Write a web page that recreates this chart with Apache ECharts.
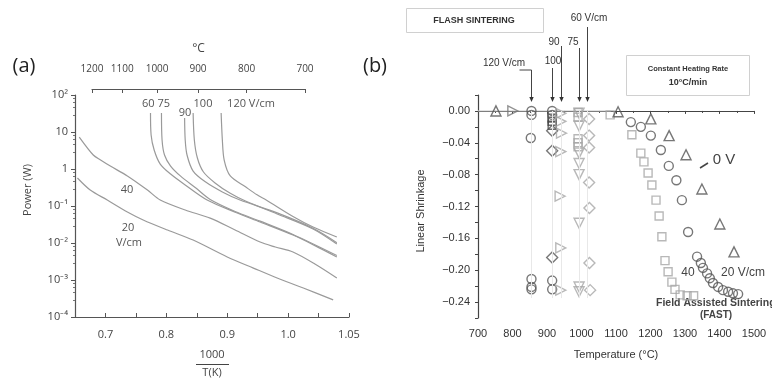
<!DOCTYPE html>
<html><head><meta charset="utf-8">
<script src="https://cdn.jsdelivr.net/npm/echarts@6/dist/echarts.min.js"></script>
<style>html,body{margin:0;padding:0;background:#fff}#c{width:772px;height:379px}</style>
</head><body><div id="c"></div>
<script>
// ---------- Panel (a): power vs 1000/T ----------
const xTickValsA = [0.7, 0.8, 0.9, 1.0, 1.1];
const xTickTextA = ['0.7', '0.8', '0.9', '1.0', '1.05'];
const yTickTextA = ['10⁻⁴', '10⁻³', '10⁻²', '10⁻¹', '1', '10', '10²'];
const celsiusTicks = [1200, 1100, 1000, 900, 800, 700];

const power20 = [[0.654,0.57],[0.675,0.27],[0.703,0.145],[0.736,0.069],[0.762,0.042],[0.802,0.0224],[0.844,0.012],[0.900,0.0042],[0.943,0.0021],[0.982,0.00113],[1.025,0.00061],[1.074,0.00029]];
const power40 = [[0.657,7.3],[0.680,2.39],[0.692,1.75],[0.708,1.2],[0.736,0.65],[0.769,0.27],[0.790,0.145],[0.831,0.078],[0.872,0.047],[0.913,0.0224],[0.954,0.0106],[0.979,0.0078],[1.008,0.0057],[1.044,0.0027],[1.080,0.00113]];
const power60 = [[0.774,32.7],[0.775,8.3],[0.780,3.27],[0.790,1.36],[0.807,0.73],[0.831,0.37],[0.867,0.145],[0.913,0.068],[0.954,0.037],[1.008,0.0164],[1.044,0.0085],[1.080,0.0042]];
const power75 = [[0.792,32.7],[0.793,6.1],[0.797,2.39],[0.807,1.2],[0.823,0.65],[0.848,0.31],[0.872,0.15],[0.913,0.071],[0.954,0.039],[1.008,0.017],[1.080,0.0046]];
const power90 = [[0.830,23.9],[0.831,6.1],[0.834,2.39],[0.844,0.88],[0.864,0.45],[0.892,0.24],[0.921,0.145],[0.982,0.065],[1.041,0.025],[1.080,0.0102]];
const power100 = [[0.844,32.7],[0.846,6.1],[0.851,1.98],[0.861,0.83],[0.880,0.42],[0.905,0.22],[0.930,0.136],[0.982,0.061],[1.041,0.024],[1.080,0.0094]];
const power120 = [[0.890,32.7],[0.892,6.1],[0.895,1.75],[0.905,0.65],[0.930,0.33],[0.949,0.20],[0.964,0.145],[1.008,0.052],[1.041,0.027],[1.080,0.0145]];

// ---------- Panel (b): linear shrinkage vs temperature ----------
const startPtsUp = [[752,0.000]];
const startPtsRight = [[801,0.000]];
const flash120 = [[855,0.000],[855,-0.005],[853,-0.034],[855,-0.211],[855,-0.221],[855,-0.224]];
const flash100Circ = [[915,0.000],[915,-0.005],[915,-0.213],[915,-0.224]];
const flash100Diam = [[915,-0.025],[915,-0.050],[915,-0.184]];
const flash100Sq = [[915,-0.009],[915,-0.013],[915,-0.018]];
const flash90 = [[940,-0.003],[940,-0.013],[942,-0.028],[940,-0.051],[938,-0.107],[940,-0.172],[940,-0.225]];
const flash75 = [[993,-0.003],[993,-0.019],[993,-0.053],[993,-0.066],[993,-0.080],[993,-0.141],[993,-0.221],[993,-0.227]];
const flash60 = [[1022,-0.010],[1022,-0.031],[1022,-0.046],[1022,-0.090],[1023,-0.122],[1023,-0.191],[1025,-0.225]];
const flashSq = [[990,-0.002],[990,-0.008],[990,-0.035],[990,-0.040],[990,-0.045]];
const zeroV = [[1106,-0.001],[1201,-0.010],[1254,-0.031],[1303,-0.055],[1349,-0.098],[1401,-0.142],[1442,-0.177]];
const field20 = [[1143,-0.014],[1172,-0.020],[1201,-0.031],[1230,-0.049],[1253,-0.069],[1275,-0.087],[1291,-0.112],[1309,-0.152],[1335,-0.183],[1346,-0.191],[1352,-0.197],[1364,-0.204],[1372,-0.210],[1381,-0.216],[1396,-0.221],[1410,-0.225],[1425,-0.227],[1439,-0.229],[1454,-0.230]];
const field40 = [[1083,-0.005],[1146,-0.030],[1172,-0.053],[1181,-0.064],[1193,-0.078],[1204,-0.093],[1216,-0.112],[1225,-0.132],[1233,-0.158],[1242,-0.188],[1251,-0.202],[1262,-0.215],[1271,-0.224],[1286,-0.231],[1306,-0.232],[1325,-0.232]];
const flashTemps = [855, 915, 940, 993, 1016];
const zeroLine = [[700,0],[1085,0]];

const chart = echarts.init(document.getElementById('c'), null, {renderer: 'canvas'});
const FA = 'Open Sans, Liberation Sans, sans-serif';
const FB = 'Liberation Sans, Arial, sans-serif';
const DARK = '#555', LIGHT = '#a6a6a6';

function curve(data) {
  return {type: 'line', xAxisIndex: 0, yAxisIndex: 0, data: data, showSymbol: false, symbol: 'none',
    smooth: 0.3, lineStyle: {color: '#9a9a9a', width: 1.2}, silent: true, z: 3};
}
function pts(data, symbol, color, size, rot) {
  return {type: 'scatter', xAxisIndex: 2, yAxisIndex: 2, data: data, symbol: symbol,
    symbolSize: size || 9, symbolRotate: rot || 0, silent: true, z: 4,
    itemStyle: {color: 'rgba(255,255,255,0)', borderColor: color, borderWidth: 1.4}};
}

chart.setOption({
  animation: false,
  grid: [
    {left: 75, width: 274, top: 95, height: 222},
    {left: 92, width: 213, top: 79, height: 10},
    {left: 478, right: 18, top: 95, bottom: 61}
  ],
  xAxis: [
    {gridIndex: 0, type: 'value', min: 0.65, max: 1.1, interval: 0.05,
      axisLine: {lineStyle: {color: '#555', width: 1.2}},
      axisTick: {inside: true, length: 4, lineStyle: {color: '#555'}},
      splitLine: {show: false},
      axisLabel: {color: '#444', fontSize: 11, fontFamily: FA, margin: 12,
        formatter: v => { const i = xTickValsA.findIndex(t => Math.abs(t - v) < 1e-6); return i >= 0 ? xTickTextA[i] : ''; }}},
    {gridIndex: 1, type: 'value', position: 'top',
      min: 1000 / (Math.max(...celsiusTicks) + 273), max: 1000 / (Math.min(...celsiusTicks) + 273),
      axisLine: {lineStyle: {color: '#555', width: 1.2}},
      axisTick: {inside: true, length: 4, lineStyle: {color: '#555'}, customValues: celsiusTicks.map(c => 1000 / (c + 273))},
      splitLine: {show: false},
      axisLabel: {color: '#444', fontSize: 10, fontFamily: FA, margin: 5,
        customValues: celsiusTicks.map(c => 1000 / (c + 273)),
        formatter: v => String(Math.round(1000 / v - 273))},
      name: '°C', nameLocation: 'middle', nameGap: 24,
      nameTextStyle: {color: '#444', fontSize: 12, fontFamily: FA}},
    {gridIndex: 2, type: 'value', min: 700, max: 1500, interval: 100,
      axisLine: {lineStyle: {color: '#444', width: 1.2}},
      axisTick: {inside: false, length: 3, lineStyle: {color: '#444'}},
      minorTick: {show: true, splitNumber: 2, length: 2, lineStyle: {color: '#444'}},
      splitLine: {show: false},
      axisLabel: {color: '#333', fontSize: 11, fontFamily: FB, margin: 10, formatter: v => String(v)},
      name: 'Temperature (°C)', nameLocation: 'middle', nameGap: 31,
      nameTextStyle: {color: '#333', fontSize: 11, fontFamily: FB}}
  ],
  yAxis: [
    {gridIndex: 0, type: 'log', logBase: 10, min: 1e-4, max: 100, interval: 1,
      axisLine: {show: true, lineStyle: {color: '#555', width: 1.2}},
      axisTick: {show: true, inside: false, length: 4, lineStyle: {color: '#555'}},
      minorTick: {show: true, splitNumber: 5, length: 2, lineStyle: {color: '#777'}},
      splitLine: {show: false},
      axisLabel: {color: '#444', fontSize: 11, fontFamily: FA, margin: 7,
        formatter: v => { const i = Math.round(Math.log10(v)) + 4; return yTickTextA[i] || ''; }}},
    {gridIndex: 1, type: 'value', show: false},
    {gridIndex: 2, type: 'value', min: -0.26, max: 0.02, interval: 0.02,
      axisLine: {show: true, lineStyle: {color: '#444', width: 1.2}},
      axisTick: {show: true, inside: false, length: 3, lineStyle: {color: '#444'}},
      splitLine: {show: false},
      axisLabel: {color: '#333', fontSize: 11, fontFamily: FB, margin: 8,
        formatter: v => { const k = Math.round(v * 100); if (k % 4 !== 0) return ''; return (k < 0 ? '−' : '') + Math.abs(v).toFixed(2); }}}
  ],
  series: [
    curve(power20), curve(power40), curve(power60), curve(power75), curve(power90), curve(power100), curve(power120),
    {type: 'line', xAxisIndex: 2, yAxisIndex: 2, data: zeroLine, symbol: 'none', silent: true, z: 2,
      lineStyle: {color: '#cfcfcf', width: 1},
      markLine: {symbol: 'none', silent: true, label: {show: false},
        lineStyle: {color: '#e8e8e8', type: 'solid', width: 1},
        data: flashTemps.map(t => [{coord: [t, 0]}, {coord: [t, -0.235]}])}},
    pts(startPtsUp, 'triangle', DARK, 10),
    pts(startPtsRight, 'triangle', '#777', 10, -90),
    pts(flash120, 'circle', DARK, 9),
    pts(flash100Sq, 'rect', '#444', 8),
    pts(flash100Circ, 'circle', DARK, 9),
    pts(flash100Diam, 'diamond', DARK, 11),
    pts(flash90, 'triangle', LIGHT, 10, -90),
    pts(flashSq, 'rect', LIGHT, 8),
    pts(flash75, 'triangle', LIGHT, 10, 180),
    pts(flash60, 'diamond', LIGHT, 11),
    pts(field40, 'rect', LIGHT, 8),
    pts(field20, 'circle', DARK, 9),
    pts(zeroV, 'triangle', DARK, 10)
  ]
});

// ---------- annotations ----------
const px = t => chart.convertToPixel({xAxisIndex: 2}, t);
const txt = (s, x, y, font, fill, align, rot) => ({type: 'text', x: x, y: y, rotation: rot || 0, silent: true,
  style: {text: s, font: font, fill: fill || '#333', align: align || 'center', verticalAlign: 'middle',
    textAlign: align || 'center', textVerticalAlign: 'middle'}});
const ln = (x1, y1, x2, y2, c, w) => ({type: 'line', silent: true, shape: {x1: x1, y1: y1, x2: x2, y2: y2}, style: {stroke: c || '#333', lineWidth: w || 1}});
const head = (x, y) => ({type: 'polygon', silent: true, shape: {points: [[x - 2.2, y - 5], [x + 2.2, y - 5], [x, y]]}, style: {fill: '#333'}});

const arrowTops = [70, 68, 46, 48, 27];
const g = [];
flashTemps.forEach((t, i) => {
  const x = Math.round(px(t)) + 0.5;
  g.push(ln(x, arrowTops[i], x, 99, '#444', 1));
  g.push(head(x, 102));
});
const x120 = Math.round(px(flashTemps[0])) + 0.5;
g.push(ln(x120 - 12, 70, x120, 70, '#444', 1));

g.push(
  txt('(a)', 24, 66, '20px ' + FA, '#222'),
  txt('(b)', 375, 66, '20px ' + FA, '#222'),
  txt('Power (W)', 28, 190, '11px ' + FA, '#444', 'center', Math.PI / 2),
  txt('60 75', 156, 104, '11px ' + FA, '#555'),
  txt('90', 185, 113, '11px ' + FA, '#555'),
  txt('100', 203, 104, '11px ' + FA, '#555'),
  txt('120 V/cm', 251, 104, '11px ' + FA, '#555'),
  txt('40', 127, 190, '11px ' + FA, '#555'),
  txt('20', 128, 228, '11px ' + FA, '#555'),
  txt('V/cm', 129, 243, '11px ' + FA, '#555'),
  txt('1000', 212, 355, '11px ' + FA, '#444'),
  ln(196, 364.5, 229, 364.5, '#444', 1),
  txt('T(K)', 212, 373, '11px ' + FA, '#444'),
  // panel b
  {type: 'rect', silent: true, shape: {x: 406.5, y: 8.5, width: 137, height: 24}, style: {fill: '#fff', stroke: '#d0d0d0', lineWidth: 1}},
  txt('FLASH SINTERING', 474, 21, 'bold 9px ' + FB, '#333'),
  {type: 'rect', silent: true, shape: {x: 626.5, y: 55.5, width: 123, height: 40}, style: {fill: '#fff', stroke: '#d0d0d0', lineWidth: 1}},
  txt('Constant Heating Rate', 688, 69, 'bold 7.5px ' + FB, '#333'),
  txt('10°C/min', 688, 83, 'bold 9px ' + FB, '#333'),
  txt('60 V/cm', 589, 18, '10px ' + FB, '#333'),
  txt('90', 554, 42, '10px ' + FB, '#333'),
  txt('75', 573, 42, '10px ' + FB, '#333'),
  txt('100', 553, 61, '10px ' + FB, '#333'),
  txt('120 V/cm', 504, 63, '10px ' + FB, '#333'),
  txt('Linear Shrinkage', 421, 211, '11px ' + FB, '#333', 'center', Math.PI / 2),
  ln(700, 168, 708, 163, '#444', 1.5),
  txt('0 V', 724, 160, '15px ' + FB, '#444'),
  txt('40', 688, 273, '12px ' + FB, '#444'),
  txt('20 V/cm', 743, 273, '12px ' + FB, '#444'),
  txt('Field Assisted Sintering', 656, 303, 'bold 10.5px ' + FB, '#444', 'left'),
  txt('(FAST)', 716, 315, 'bold 10px ' + FB, '#444')
);
chart.setOption({graphic: g});
</script></body></html>
